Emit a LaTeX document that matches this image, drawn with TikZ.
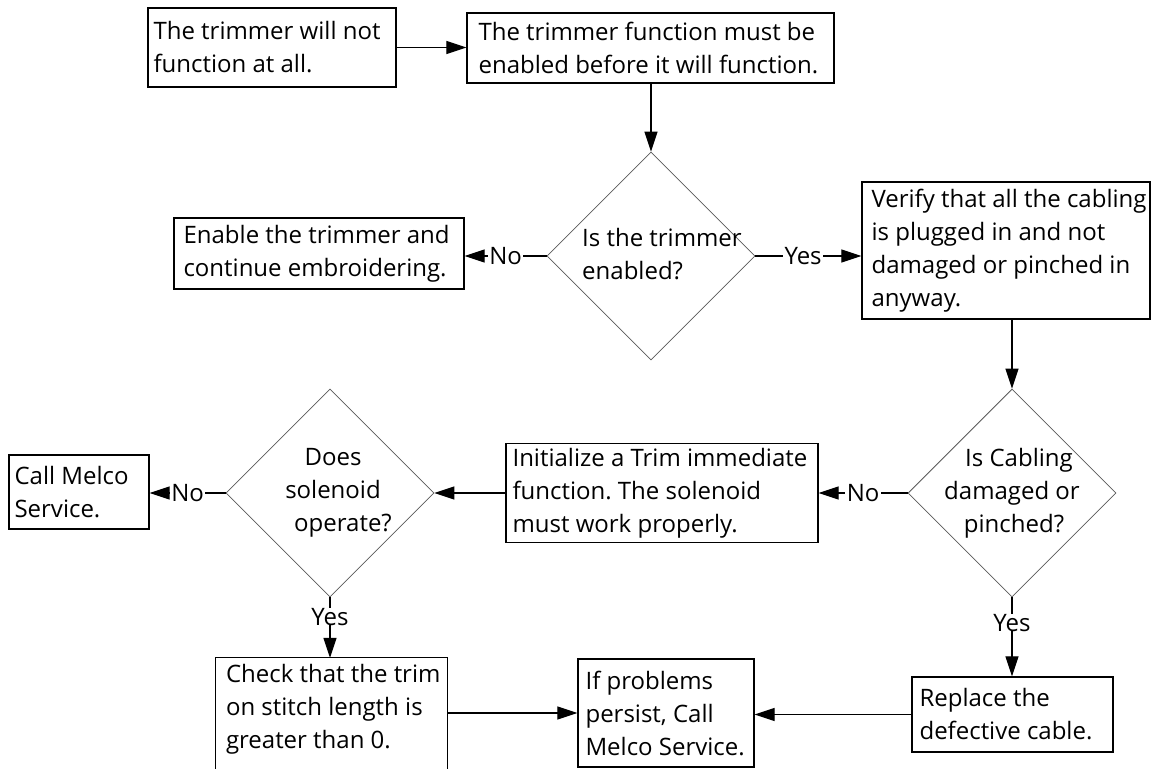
\documentclass[tikz,border=0pt]{standalone}
\usepackage{fontspec}
\setmainfont{Open Sans}
\usetikzlibrary{shapes.geometric,arrows.meta}
\frenchspacing
\begin{document}
\begin{tikzpicture}[x=1pt,y=-1pt,
  every node/.style={font=\fontsize{24}{33}\selectfont},
  box/.style={draw=black, line width=1.3pt, rectangle, inner sep=0pt},
  txt/.style={inner sep=0pt, align=left, anchor=west},
  dia/.style={draw=black!65, line width=0.8pt, diamond, aspect=1,
    minimum width=208pt, minimum height=208pt, inner sep=0pt},
  dtxt/.style={inner sep=0pt, align=center},
  arr/.style={line width=1.2pt, -{Triangle[length=20pt,width=13pt]}},
  lbl/.style={fill=white, inner xsep=1.5pt, inner ysep=0pt}
]
\useasboundingbox (0,0) rectangle (1155,768);
\clip (0,0) rectangle (1155,768);

% process boxes
\node[box, minimum width=248pt, minimum height=79pt] (b1) at (272,47.5) {};
\node[txt] (t1) at ([xshift=6pt]b1.west) {The trimmer will not\\function at all.};

\node[box, minimum width=367pt, minimum height=70pt] (b2) at (650.5,48) {};
\node[txt] (t2) at ([xshift=12pt]b2.west) {The trimmer function must be\\enabled before it will function.};

\node[box, minimum width=290pt, minimum height=71pt] (en) at (319,253.5) {};
\node[txt] (ten) at ([xshift=10pt]en.west) {Enable the trimmer and\\continue embroidering.};

\node[box, minimum width=288pt, minimum height=137pt] (ver) at (1006,250.5) {};
\node[txt] (tver) at ([xshift=10pt]ver.west) {Verify that all the cabling\\is plugged in and not\\damaged or pinched in\\anyway.};

\node[box, minimum width=312pt, minimum height=99pt] (ini) at (662,493) {};
\node[txt] (tini) at ([xshift=7pt]ini.west) {Initialize a Trim immediate\\function. The solenoid\\must work properly.};

\node[box, minimum width=140pt, minimum height=74pt] (cm) at (79,492) {};
\node[txt] (tcm) at ([xshift=6pt]cm.west) {Call Melco\\Service.};

% this box runs past the lower edge, so only three sides show
\node[minimum width=231pt, minimum height=102pt, inner sep=0pt] (chk) at (331.5,709) {};
\draw[line width=1.3pt] ([yshift=-40pt]chk.south west) -- (chk.north west) -- (chk.north east) -- ([yshift=-40pt]chk.south east);
\node[txt] (tchk) at ([xshift=10pt]chk.west) {Check that the trim\\on stitch length is\\greater than 0.};

\node[box, minimum width=176pt, minimum height=108pt] (ifp) at (666,713) {};
\node[txt] (tifp) at ([xshift=8pt]ifp.west) {If problems\\persist, Call\\Melco Service.};

\node[box, minimum width=201pt, minimum height=75pt] (rep) at (1012.5,714.5) {};
\node[txt] (trep) at ([xshift=8pt]rep.west) {Replace the\\defective cable.};

% decisions
\node[dia] (d1) at (651,256) {};
\node[txt] (td1) at (582,254) {Is the trimmer\\enabled?};

\node[dia] (d2) at (1012,493) {};
\node[dtxt] (td2) at (1012,493) {\hspace*{14pt}Is Cabling\\damaged or\\\hspace*{4pt}pinched?};

\node[dia] (d3) at (330,493) {};
\node[dtxt] (td3) at (333,493) {Does\\solenoid\\\hspace*{20pt}operate?};

% connectors
\draw[arr] (b1.east) -- (b2.west |- b1.east);
\draw[arr] (b2.south -| d1.north) -- (d1.north);
\draw[arr] (d1.west) -- node[lbl] {No} (en.east |- d1.west);
\draw[arr] (d1.east) -- node[lbl, pos=0.45] {Yes} (ver.west |- d1.east);
\draw[arr] (ver.south -| d2.north) -- (d2.north);
\draw[arr] (d2.west) -- node[lbl] {No} (ini.east |- d2.west);
\draw[arr] (ini.west) -- (d3.east);
\draw[arr] (d3.west) -- node[lbl] {No} (cm.east |- d3.west);
\draw[arr] (d3.south) -- node[lbl, pos=0.32] {Yes} (chk.north -| d3.south);
\draw[arr] (d2.south) -- node[lbl, pos=0.32] {Yes} (rep.north -| d2.south);
\draw[arr] (chk.east |- ifp.west) -- (ifp.west);
\draw[arr] (rep.west) -- (ifp.east |- rep.west);
\end{tikzpicture}
\end{document}
